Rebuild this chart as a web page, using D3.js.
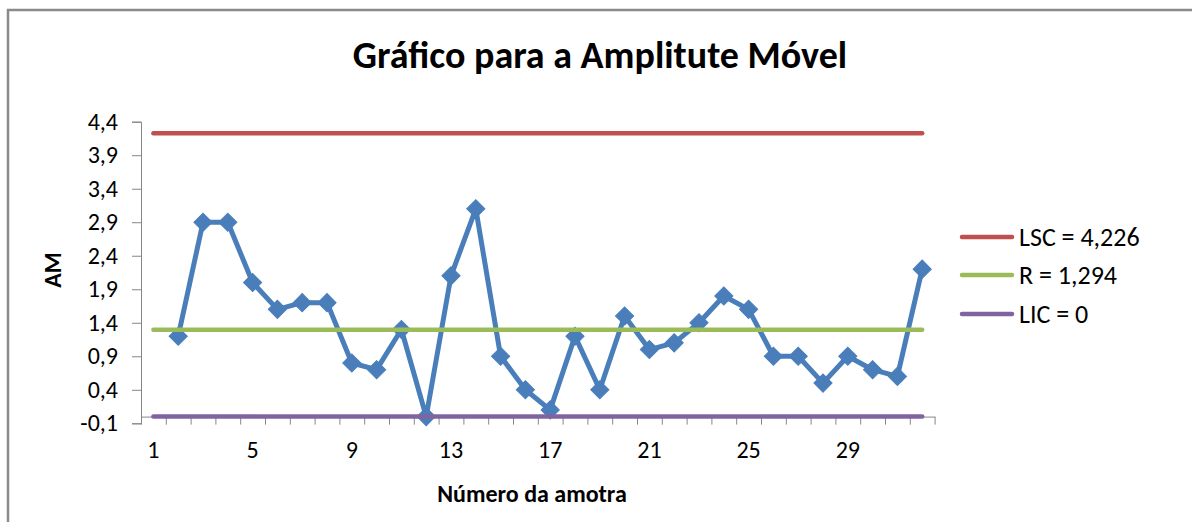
<!DOCTYPE html>
<html>
<head>
<meta charset="utf-8">
<script src="https://cdn.jsdelivr.net/npm/d3@7"></script>
<style>
  html, body { margin: 0; padding: 0; background: #fff; }
  svg { display: block; }
  text { font-family: Carlito, Lato, "Open Sans", sans-serif; fill: #000; }
  .tick text { font-size: 24px; font-family: Carlito, Lato, sans-serif; }
</style>
</head>
<body>
<svg id="chart" width="1192" height="522"></svg>
<script>
// Moving-range control chart: sample number vs. moving range (AM)
const samples = d3.range(1, 33);
const movingRange = [null, 1.2, 2.9, 2.9, 2.0, 1.6, 1.7, 1.7, 0.8, 0.7, 1.3, 0.0, 2.1, 3.1, 0.9, 0.4,
                     0.1, 1.2, 0.4, 1.5, 1.0, 1.1, 1.4, 1.8, 1.6, 0.9, 0.9, 0.5, 0.9, 0.7, 0.6, 2.2];
const limitNames = ["LSC = 4,226", "R = 1,294", "LIC = 0"];
const limitValues = [4.226, 1.294, 0];
const limitColors = ["#C0504D", "#9BBB59", "#8064A2"];
const yTickValues = [-0.1, 0.4, 0.9, 1.4, 1.9, 2.4, 2.9, 3.4, 3.9, 4.4];
const xTickLabels = [1, 5, 9, 13, 17, 21, 25, 29];
const titleText = "Gráfico para a Amplitute Móvel";
const xTitle = "Número da amotra";
const yTitle = "AM";

const svg = d3.select("#chart");
const ptBR = d3.formatLocale({ decimal: ",", thousands: ".", grouping: [3], currency: ["R$", ""], minus: "-" });
const fmt = ptBR.format(".1f");

const plot = { left: 141, right: 934.6, top: 121.7, bottom: 423.3 };

const x = d3.scaleBand().domain(samples).range([plot.left, plot.right]);
const xEdge = d3.scaleLinear().domain([0.5, 32.5]).range([plot.left, plot.right]);
const y = d3.scaleLinear().domain([-0.1, 4.4]).range([plot.bottom, plot.top]);
const cx = d => x(d) + x.bandwidth() / 2;

// chart frame
svg.append("path")
  .attr("d", "M8,522 V10 H1192")
  .attr("fill", "none").attr("stroke", "#8a8a8a").attr("stroke-width", 2.5);

// title
svg.append("text")
  .attr("x", 600).attr("y", 68)
  .attr("text-anchor", "middle")
  .attr("font-size", 38).attr("font-weight", "bold")
  .text(titleText);

// vertical axis
const yAxis = svg.append("g")
  .attr("transform", `translate(${plot.left},0)`)
  .call(d3.axisLeft(y).tickValues(yTickValues).tickFormat(fmt).tickSize(9).tickPadding(14));
yAxis.selectAll("path, line").attr("stroke", "#868686");

// horizontal axis crossing at zero, ticks between categories
const xAxis = svg.append("g")
  .attr("transform", `translate(0,${y(0)})`)
  .call(d3.axisBottom(xEdge).tickValues(d3.range(0.5, 33, 1)).tickFormat("").tickSize(8).tickSizeOuter(0));
xAxis.selectAll("path, line").attr("stroke", "#868686");

const xLabels = svg.append("g")
  .attr("transform", `translate(0,${plot.bottom + 18})`)
  .call(d3.axisBottom(x).tickValues(xTickLabels).tickSize(0).tickPadding(0));
xLabels.select(".domain").remove();

// axis titles
svg.append("text")
  .attr("x", 532).attr("y", 502)
  .attr("text-anchor", "middle")
  .attr("font-size", 24).attr("font-weight", "bold")
  .text(xTitle);
svg.append("text")
  .attr("transform", "translate(61,270) rotate(-90)")
  .attr("text-anchor", "middle")
  .attr("font-size", 24).attr("font-weight", "bold")
  .text(yTitle);

// moving range series
const pts = samples.map((s, i) => ({ s, v: movingRange[i] })).filter(d => d.v !== null);
svg.append("path")
  .datum(pts)
  .attr("fill", "none")
  .attr("stroke", "#4A7EBB")
  .attr("stroke-width", 5)
  .attr("stroke-linejoin", "round")
  .attr("d", d3.line().x(d => cx(d.s)).y(d => y(d.v)));
svg.append("g").selectAll("path")
  .data(pts)
  .join("path")
  .attr("transform", d => `translate(${cx(d.s)},${y(d.v)}) rotate(45)`)
  .attr("d", d3.symbol(d3.symbolSquare, 165))
  .attr("fill", "#4A7EBB")
  .attr("stroke", "#4A7EBB")
  .attr("stroke-width", 1);

// control limits
limitValues.forEach((v, i) => {
  svg.append("path")
    .datum([samples[0], samples[samples.length - 1]])
    .attr("fill", "none")
    .attr("stroke", limitColors[i])
    .attr("stroke-width", 4.5)
    .attr("stroke-linecap", "round")
    .attr("d", d3.line().x(d => cx(d)).y(() => y(v)));
});

// legend
const legendY = [237, 275, 314];
const legend = svg.append("g");
limitNames.forEach((name, i) => {
  legend.append("line")
    .attr("x1", 962).attr("x2", 1012)
    .attr("y1", legendY[i]).attr("y2", legendY[i])
    .attr("stroke", limitColors[i]).attr("stroke-width", 4.5)
    .attr("stroke-linecap", "round");
  legend.append("text")
    .attr("x", 1019).attr("y", legendY[i])
    .attr("dy", "0.35em")
    .attr("font-size", 26)
    .text(name);
});
</script>
</body>
</html>
